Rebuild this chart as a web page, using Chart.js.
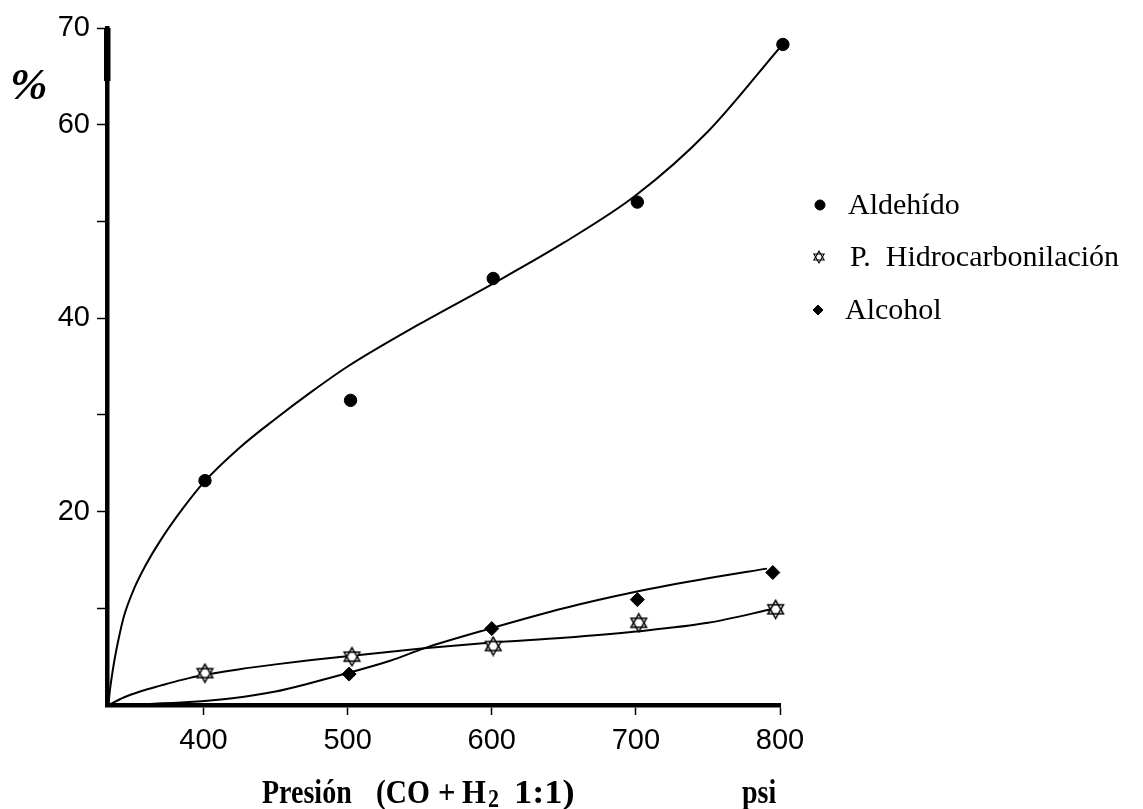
<!DOCTYPE html>
<html>
<head>
<meta charset="utf-8">
<script src="https://cdn.jsdelivr.net/npm/chart.js@4/dist/chart.umd.min.js"></script>
<style>
  html, body { margin: 0; padding: 0; background: #fff; }
  #wrap { width: 1143px; height: 809px; }
</style>
</head>
<body>
<div id="wrap"><canvas id="chart" width="1143" height="809"></canvas></div>
<script>
// measured points (psi, %)
const aldehidoX = [401, 502, 601, 701, 802];
const aldehidoY = [23.2, 31.5, 44.1, 52.0, 68.3];
const hidroX = [401, 503, 601, 702, 797];
const hidroY = [3.3, 5.0, 6.1, 8.5, 9.9];
const alcoholX = [501, 600, 701, 795];
const alcoholY = [3.2, 7.9, 10.9, 13.7];

// hand drawn fitted curves
const aldehidoFitX = [334, 335, 336, 338, 341, 345, 352, 360, 370, 385, 400, 425, 450, 475, 500, 550, 600, 650, 700, 750, 800];
const aldehidoFitY = [0, 1.5, 2.6, 4.5, 6.8, 9.3, 12.1, 14.5, 17.0, 20.2, 23.0, 26.6, 29.6, 32.4, 35.0, 39.4, 43.5, 47.8, 52.7, 59.3, 68.0];
const hidroFitX = [334, 345, 357, 370, 385, 400, 425, 450, 475, 500, 553, 600, 650, 700, 750, 797];
const hidroFitY = [0, 0.8, 1.45, 2.0, 2.6, 3.1, 3.7, 4.2, 4.65, 5.05, 5.86, 6.45, 6.95, 7.6, 8.5, 10.0];
const alcoholFitX = [334, 360, 390, 420, 450, 475, 500, 530, 553, 600, 650, 700, 750, 791];
const alcoholFitY = [0, 0.1, 0.3, 0.7, 1.4, 2.3, 3.3, 4.6, 5.86, 7.95, 10.0, 11.7, 13.1, 14.1];

// axis ticks
const xTicks = [400, 500, 600, 700, 800];
const yTicks = [0, 10, 20, 30, 40, 50, 60, 70];
const yLabels = [20, 40, 60, 70];

const seriesNames = ['Aldehído', 'P.  Hidrocarbonilación', 'Alcohol'];

function pts(xs, ys) {
    return xs.map(function (x, i) { return { x: x, y: ys[i] }; });
}

// star of David marker, white inside
function makeStar(size, lw) {
    const c = document.createElement('canvas');
    c.width = size; c.height = size;
    const g = c.getContext('2d');
    const cx = size / 2, cy = size / 2, r = size / 2 - lw;
    function tri(start) {
        g.beginPath();
        for (let k = 0; k < 3; k++) {
            const a = (start + k * 120) * Math.PI / 180;
            const px = cx + r * Math.cos(a), py = cy + r * Math.sin(a);
            if (k == 0) g.moveTo(px, py); else g.lineTo(px, py);
        }
        g.closePath();
    }
    g.fillStyle = '#fff';
    tri(-90); g.fill();
    tri(90); g.fill();
    g.strokeStyle = '#000';
    g.lineWidth = lw;
    tri(-90); g.stroke();
    tri(90); g.stroke();
    return c;
}
const starBig = makeStar(21, 1.5);
const starSmall = makeStar(14, 1.1);

// the original text looks a bit stretched
function tallText(ctx, t, x, y, sx, sy) {
    ctx.save();
    ctx.translate(x, y);
    ctx.scale(sx, sy);
    ctx.fillText(t, 0, 0);
    ctx.restore();
}

// text that is not an axis label: %, x title, psi, legend
const extraText = {
    id: 'extraText',
    afterDraw(chart) {
        const ctx = chart.ctx;
        ctx.save();
        ctx.fillStyle = '#000';
        ctx.textBaseline = 'alphabetic';
        ctx.textAlign = 'left';

        // thicker top bit of the y axis, as in the original
        ctx.fillRect(104, 28, 6.5, 53);

        ctx.font = 'italic bold 45px "Liberation Serif"';
        ctx.fillText('%', 10, 99);

        // x title, pieces placed like the original, with subscript 2
        const big = 'bold 28px "Liberation Serif"';
        const sy = 1.22;
        ctx.font = big;
        tallText(ctx, 'Presión', 262, 803, 1, sy);
        tallText(ctx, '(CO', 376, 803, 1.05, sy);
        tallText(ctx, '+', 438, 803, 1.1, sy);
        tallText(ctx, 'H', 462, 803, 1.1, sy);
        const wH = ctx.measureText('H').width * 1.1;
        ctx.font = 'bold 20px "Liberation Serif"';
        tallText(ctx, '2', 462 + wH + 2, 807, 1.1, sy);
        ctx.font = big;
        tallText(ctx, '1:1)', 514, 803, 1.3, sy);
        tallText(ctx, 'psi', 742, 803, 1, sy);

        // legend
        const rows = [
            { y: 205, mx: 820, tx: 848, style: 'circle', r: 5 },
            { y: 257, mx: 819, tx: 850, style: starSmall, r: 7 },
            { y: 310, mx: 818, tx: 845, style: 'rectRot', r: 5 }
        ];
        ctx.font = '30px "Liberation Serif"';
        ctx.textBaseline = 'middle';
        rows.forEach(function (row, i) {
            ctx.fillStyle = '#000';
            ctx.strokeStyle = '#000';
            ctx.lineWidth = 1;
            Chart.helpers.drawPoint(ctx, { pointStyle: row.style, radius: row.r, rotation: 0, borderWidth: 1 }, row.mx, row.y);
            ctx.fillStyle = '#000';
            ctx.fillText(seriesNames[i], row.tx, row.y + 1);
        });
        ctx.restore();
    }
};

const lineDefaults = {
    type: 'line',
    showLine: true,
    borderColor: '#000',
    borderWidth: 2,
    pointRadius: 0,
    fill: false,
    cubicInterpolationMode: 'monotone',
    order: 2
};

const ctx = document.getElementById('chart');
const chart = new Chart(ctx, {
    type: 'scatter',
    data: {
        datasets: [
            Object.assign({ label: 'fit1', data: pts(aldehidoFitX, aldehidoFitY) }, lineDefaults),
            Object.assign({ label: 'fit2', data: pts(hidroFitX, hidroFitY) }, lineDefaults),
            Object.assign({ label: 'fit3', data: pts(alcoholFitX, alcoholFitY) }, lineDefaults),
            {
                label: seriesNames[0], data: pts(aldehidoX, aldehidoY), clip: false,
                pointStyle: 'circle', pointRadius: 6.2, backgroundColor: '#000', borderColor: '#000', order: 0
            },
            {
                label: seriesNames[1], data: pts(hidroX, hidroY), clip: false,
                pointStyle: starBig, pointRadius: 10, order: 0
            },
            {
                label: seriesNames[2], data: pts(alcoholX, alcoholY), clip: false,
                pointStyle: 'rectRot', pointRadius: 7, backgroundColor: '#000', borderColor: '#000', order: 0
            }
        ]
    },
    options: {
        responsive: false,
        animation: false,
        devicePixelRatio: 1,
        layout: { padding: { top: 28, right: 363, left: 0, bottom: 0 } },
        plugins: {
            legend: { display: false },
            tooltip: { enabled: false }
        },
        scales: {
            x: {
                type: 'linear',
                min: 333,
                max: 800,
                afterBuildTicks: function (scale) {
                    scale.ticks = xTicks.map(function (v) { return { value: v }; });
                },
                afterFit: function (scale) { scale.height = 104; },
                ticks: {
                    color: '#000',
                    font: { family: '"Liberation Sans"', size: 29 },
                    padding: 9,
                    maxRotation: 0
                },
                grid: {
                    drawOnChartArea: false,
                    tickLength: 10,
                    tickWidth: 1.5,
                    tickColor: '#000'
                },
                border: { color: '#000', width: 4.5 }
            },
            y: {
                min: 0,
                max: 70,
                afterBuildTicks: function (scale) {
                    scale.ticks = yTicks.map(function (v) { return { value: v }; });
                },
                afterFit: function (scale) { scale.width = 107; },
                ticks: {
                    color: '#000',
                    font: { family: '"Liberation Sans"', size: 29 },
                    padding: 7,
                    callback: function (v) { return yLabels.includes(v) ? String(v) : ''; }
                },
                grid: {
                    drawOnChartArea: false,
                    tickLength: 10,
                    tickWidth: 1.5,
                    tickColor: function (c) { return c.tick && c.tick.value === 0 ? 'rgba(0,0,0,0)' : '#000'; }
                },
                border: { color: '#000', width: 4.5 }
            }
        }
    },
    plugins: [extraText]
});
</script>
</body>
</html>
